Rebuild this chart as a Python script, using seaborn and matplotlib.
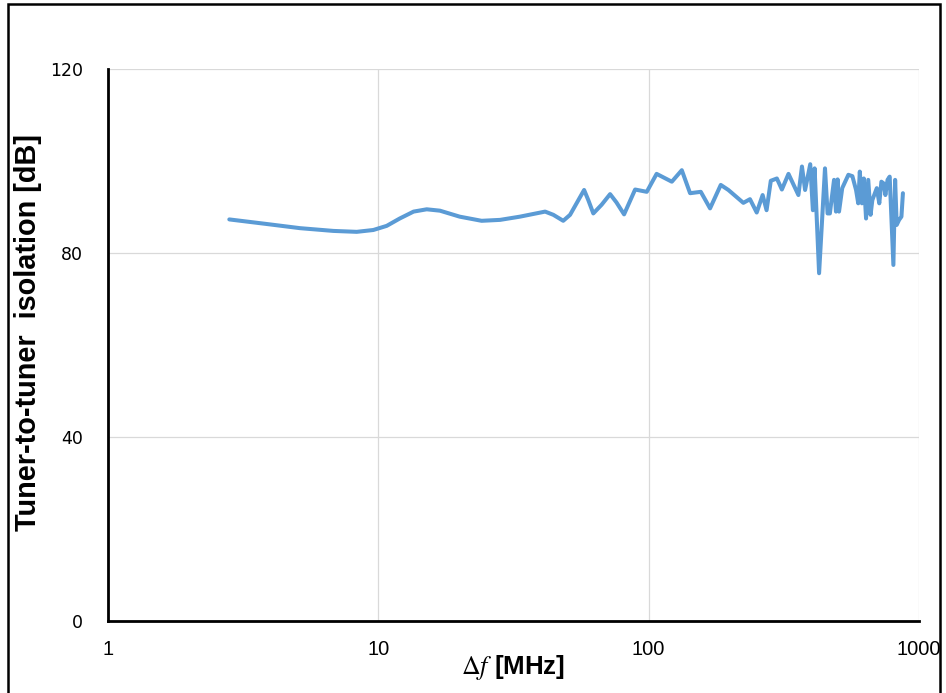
import numpy as np
import pandas as pd
import matplotlib
matplotlib.use("Agg")
import matplotlib.pyplot as plt
import matplotlib.font_manager as fm
import seaborn as sns
from matplotlib.patches import Rectangle

freq_mhz = [2.81, 3.87, 5.13, 6.82, 8.32, 9.58, 10.74, 12.0, 13.5, 15.1, 16.9, 20.0, 24.1, 28.2,
            33.4, 41.4, 44.4, 48.3, 51.2, 57.7, 59.8, 62.4, 67.0, 72.0, 76.0, 81.1, 89.1, 98.4,
            107, 121.8, 132.6, 142.3, 155.9, 168.7,
            184.8, 197.2, 224, 237, 251, 264, 273, 283, 298, 311, 329, 358, 369, 379, 396,
            405, 411, 427, 449, 459, 468, 485, 493, 500, 506, 520, 548, 567, 585, 596, 604,
            615, 625, 637, 649, 662, 672, 698, 713, 726, 741, 751, 765, 779, 804, 816, 827,
            844, 861, 872]
isolation_db = [87.3, 86.3, 85.4, 84.8, 84.6, 85.0, 85.9, 87.5, 89.0, 89.5, 89.2, 87.9, 87.0, 87.2,
                87.9, 89.0, 88.3, 87.0, 88.3, 93.7, 91.5, 88.6, 90.5, 92.8, 91.0, 88.4, 93.8, 93.3,
                97.2, 95.5, 98.0, 93.0, 93.3, 89.7,
                94.8, 93.7, 90.9, 91.7, 88.8, 92.6, 89.3, 95.7, 96.2, 93.8, 97.2, 92.6, 98.8,
                93.7, 99.3, 89.3, 98.4, 75.6, 98.4, 88.6, 88.6, 95.9, 89.0, 96.0, 89.0, 94.1,
                97.0, 96.7, 93.7, 90.8, 97.7, 90.8, 96.2, 87.5, 95.9, 88.3, 91.5, 94.1, 90.8,
                95.5, 95.1, 92.6, 95.9, 96.6, 77.4, 95.9, 86.1, 87.2, 87.9, 93.0]

y_ticks = [0, 40, 80, 120]
x_ticks = [1, 10, 100, 1000]
x_tick_labels = ["1", "10", "100", "1000"]

df = pd.DataFrame({"f": freq_mhz, "iso": isolation_db})

sns.set_theme(style="white")
plt.rcParams["font.family"] = ["DejaVu Sans"]
plt.rcParams["mathtext.fontset"] = "stix"
plt.rcParams["text.color"] = "black"
plt.rcParams["axes.labelcolor"] = "black"

available = {f.name for f in fm.fontManager.ttflist}
def pick(*names):
    for n in names:
        if n in available:
            return n
    return "DejaVu Sans"
narrow = pick("Liberation Sans Narrow", "Liberation Sans", "Roboto")

fig = plt.figure(figsize=(9.46, 6.93), dpi=100)
ax = fig.add_axes([108/946, 1-621/693, (919-108)/946, (621-69)/693])

sns.lineplot(data=df, x="f", y="iso", ax=ax, color="#5B9BD5", linewidth=2.9,
             estimator=None, sort=False)
for ln in ax.lines:
    ln.set_solid_joinstyle("round")
    ln.set_solid_capstyle("round")

ax.set_xscale("log")
ax.set_xlim(1, 1000)
ax.set_ylim(0, 120)
ax.set_yticks(y_ticks)
ax.set_xticks(x_ticks)
ax.set_xticklabels(x_tick_labels)
ax.minorticks_off()
ax.grid(True, which="major", color="#D9D9D9", linewidth=0.9)
ax.set_axisbelow(True)

for s in ["top", "right"]:
    ax.spines[s].set_visible(False)
for s in ["left", "bottom"]:
    ax.spines[s].set_color("black")
    ax.spines[s].set_linewidth(2.0)
ax.spines["bottom"].set_zorder(5)

ax.tick_params(axis="both", length=0, labelcolor="black")
ax.tick_params(axis="y", labelsize=12.5, pad=18)
ax.tick_params(axis="x", labelsize=13, pad=14)
for lbl in ax.get_xticklabels():
    lbl.set_fontfamily([narrow, "DejaVu Sans"])
    lbl.set_fontsize(14.5)

xl = ax.set_xlabel(r"$\Delta f$ [MHz]", fontsize=18, fontweight="bold",
                   family=[narrow, "DejaVu Sans"], color="black")
ax.xaxis.set_label_coords(0.5, -0.058)
yl = ax.set_ylabel("Tuner-to-tuner  isolation [dB]", fontsize=20, fontweight="bold",
                   family=[narrow, "DejaVu Sans"], color="black")
ax.yaxis.set_label_coords(-0.081, 0.522)

# scale label font sizes so their lengths match the reference
fig.canvas.draw()
r = fig.canvas.get_renderer()
h = yl.get_window_extent(r).height
yl.set_fontsize(20 * 397.0 / h)
w = xl.get_window_extent(r).width
xl.set_fontsize(18 * 104.0 / w)

fig.patches.append(Rectangle((8/946, -0.02), (940-8)/946, 1-4/693+0.02, transform=fig.transFigure,
                             fill=False, edgecolor="black", linewidth=1.8))

fig.savefig("out.png", dpi=100)
